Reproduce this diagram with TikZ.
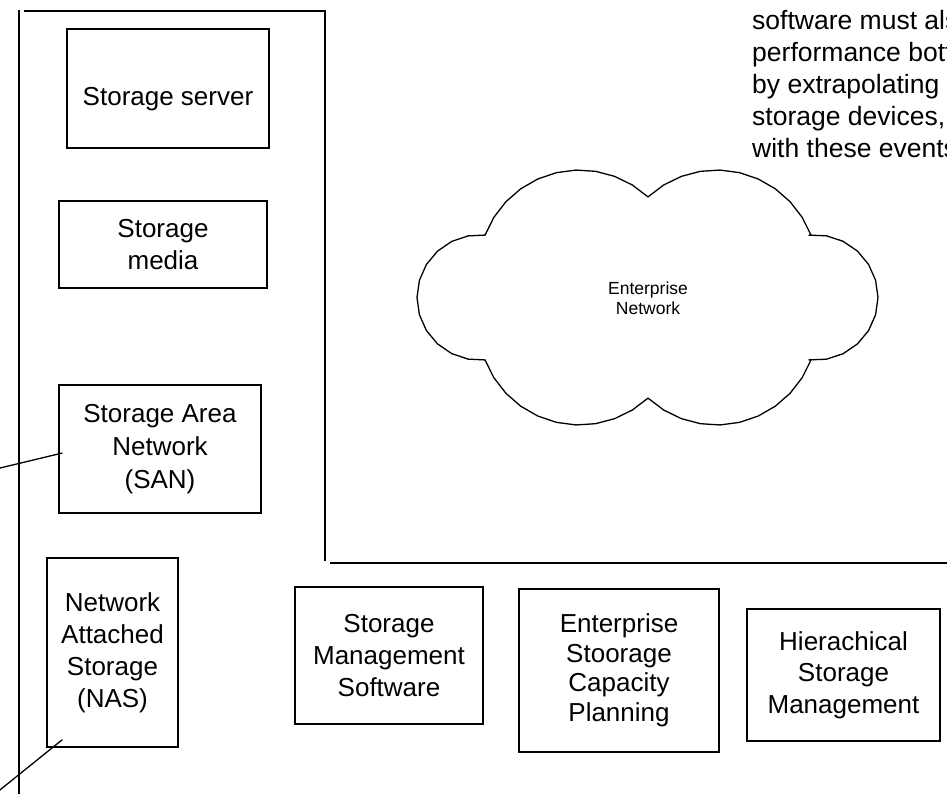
\documentclass[tikz,border=0pt]{standalone}
\usepackage{fontspec}
\setmainfont{Liberation Sans}
\begin{document}
\begin{tikzpicture}[x=1pt,y=-1pt,
  ln/.style={line width=1.3pt,line cap=rect},
  box/.style={draw,line width=1.3pt,align=center,inner sep=0pt,
    font=\fontsize{26}{32}\selectfont},
  para/.style={anchor=base west,inner sep=0pt,font=\fontsize{26.5}{32}\selectfont},
  cloudtext/.style={align=center,inner sep=0pt,font=\fontsize{17.5}{19.5}\selectfont}]
\useasboundingbox (0,0) rectangle (947,793);
\clip (0,0) rectangle (947,793);
% frame lines
\draw[ln] (19,11) -- (19,800);
\draw[ln] (25,11) -- (325,11) -- (325,560);
\draw[ln] (331,563) -- (960,563);
% boxes
\node[box,minimum width=202pt,minimum height=119pt,text height=33pt,text depth=0pt] (server) at (168,88.5) {Storage server};
\node[box,minimum width=208pt,minimum height=87pt] (media) at (163,244.5) {Storage\\media};
\node[box,minimum width=202pt,minimum height=128pt,font=\fontsize{26}{33}\selectfont] (san) at (160,449) {Storage Area\\Network\\(SAN)};
\node[box,minimum width=131pt,minimum height=189pt] (nas) at (112.5,652.5) {Network\\Attached\\Storage\\(NAS)};
\node[box,minimum width=188pt,minimum height=137pt] (sms) at (389,655.5) {Storage\\Management\\Software};
\node[box,minimum width=200pt,minimum height=163pt,font=\fontsize{26}{29.5}\selectfont] (escp) at (619,670.5) {Enterprise\\Stoorage\\Capacity\\Planning};
\node[box,minimum width=193pt,minimum height=132pt,font=\fontsize{26}{31.5}\selectfont] (hsm) at (843.5,675) {Hierachical\\Storage\\Management};
% connectors from left edge
\coordinate (sanfree) at (-2,468.5);
\coordinate (nasfree) at (-2,791.5);
\draw[ln,line cap=butt] (sanfree) -- ([xshift=4pt,yshift=-4pt]san.west);
\draw[ln,line cap=butt] (nasfree) -- ([xshift=16pt,yshift=8pt]nas.south west);
% cloud
\draw[line width=1.3pt,line join=round]
  plot[domain=-159.1:-47.2,samples=11] ({579.4+101*cos(\x)},{271+101*sin(\x)})
  -- plot[domain=-132.8:-20.9,samples=11] ({716.6+101*cos(\x)},{271+101*sin(\x)})
  -- plot[domain=-95.8:95.8,samples=13] ({815.3+62.7*cos(\x)},{297.5+62.7*sin(\x)})
  -- plot[domain=20.9:132.8,samples=11] ({716.6+101*cos(\x)},{324+101*sin(\x)})
  -- plot[domain=47.2:159.1,samples=11] ({579.4+101*cos(\x)},{324+101*sin(\x)})
  -- plot[domain=84.8:275.2,samples=13] ({479.7+62.7*cos(\x)},{297.5+62.7*sin(\x)})
  -- cycle;
\node[cloudtext] (net) at (648,298) {Enterprise\\Network};
% paragraph, cut off by the right edge as in the reference
\node[para] (p1) at (752,29) {software must als};
\node[para] (p2) at (752,61) {performance bott};
\node[para] (p3) at (752,93) {by extrapolating f};
\node[para] (p4) at (752,125) {storage devices,};
\node[para] (p5) at (752,157) {with these events};
\end{tikzpicture}
\end{document}
